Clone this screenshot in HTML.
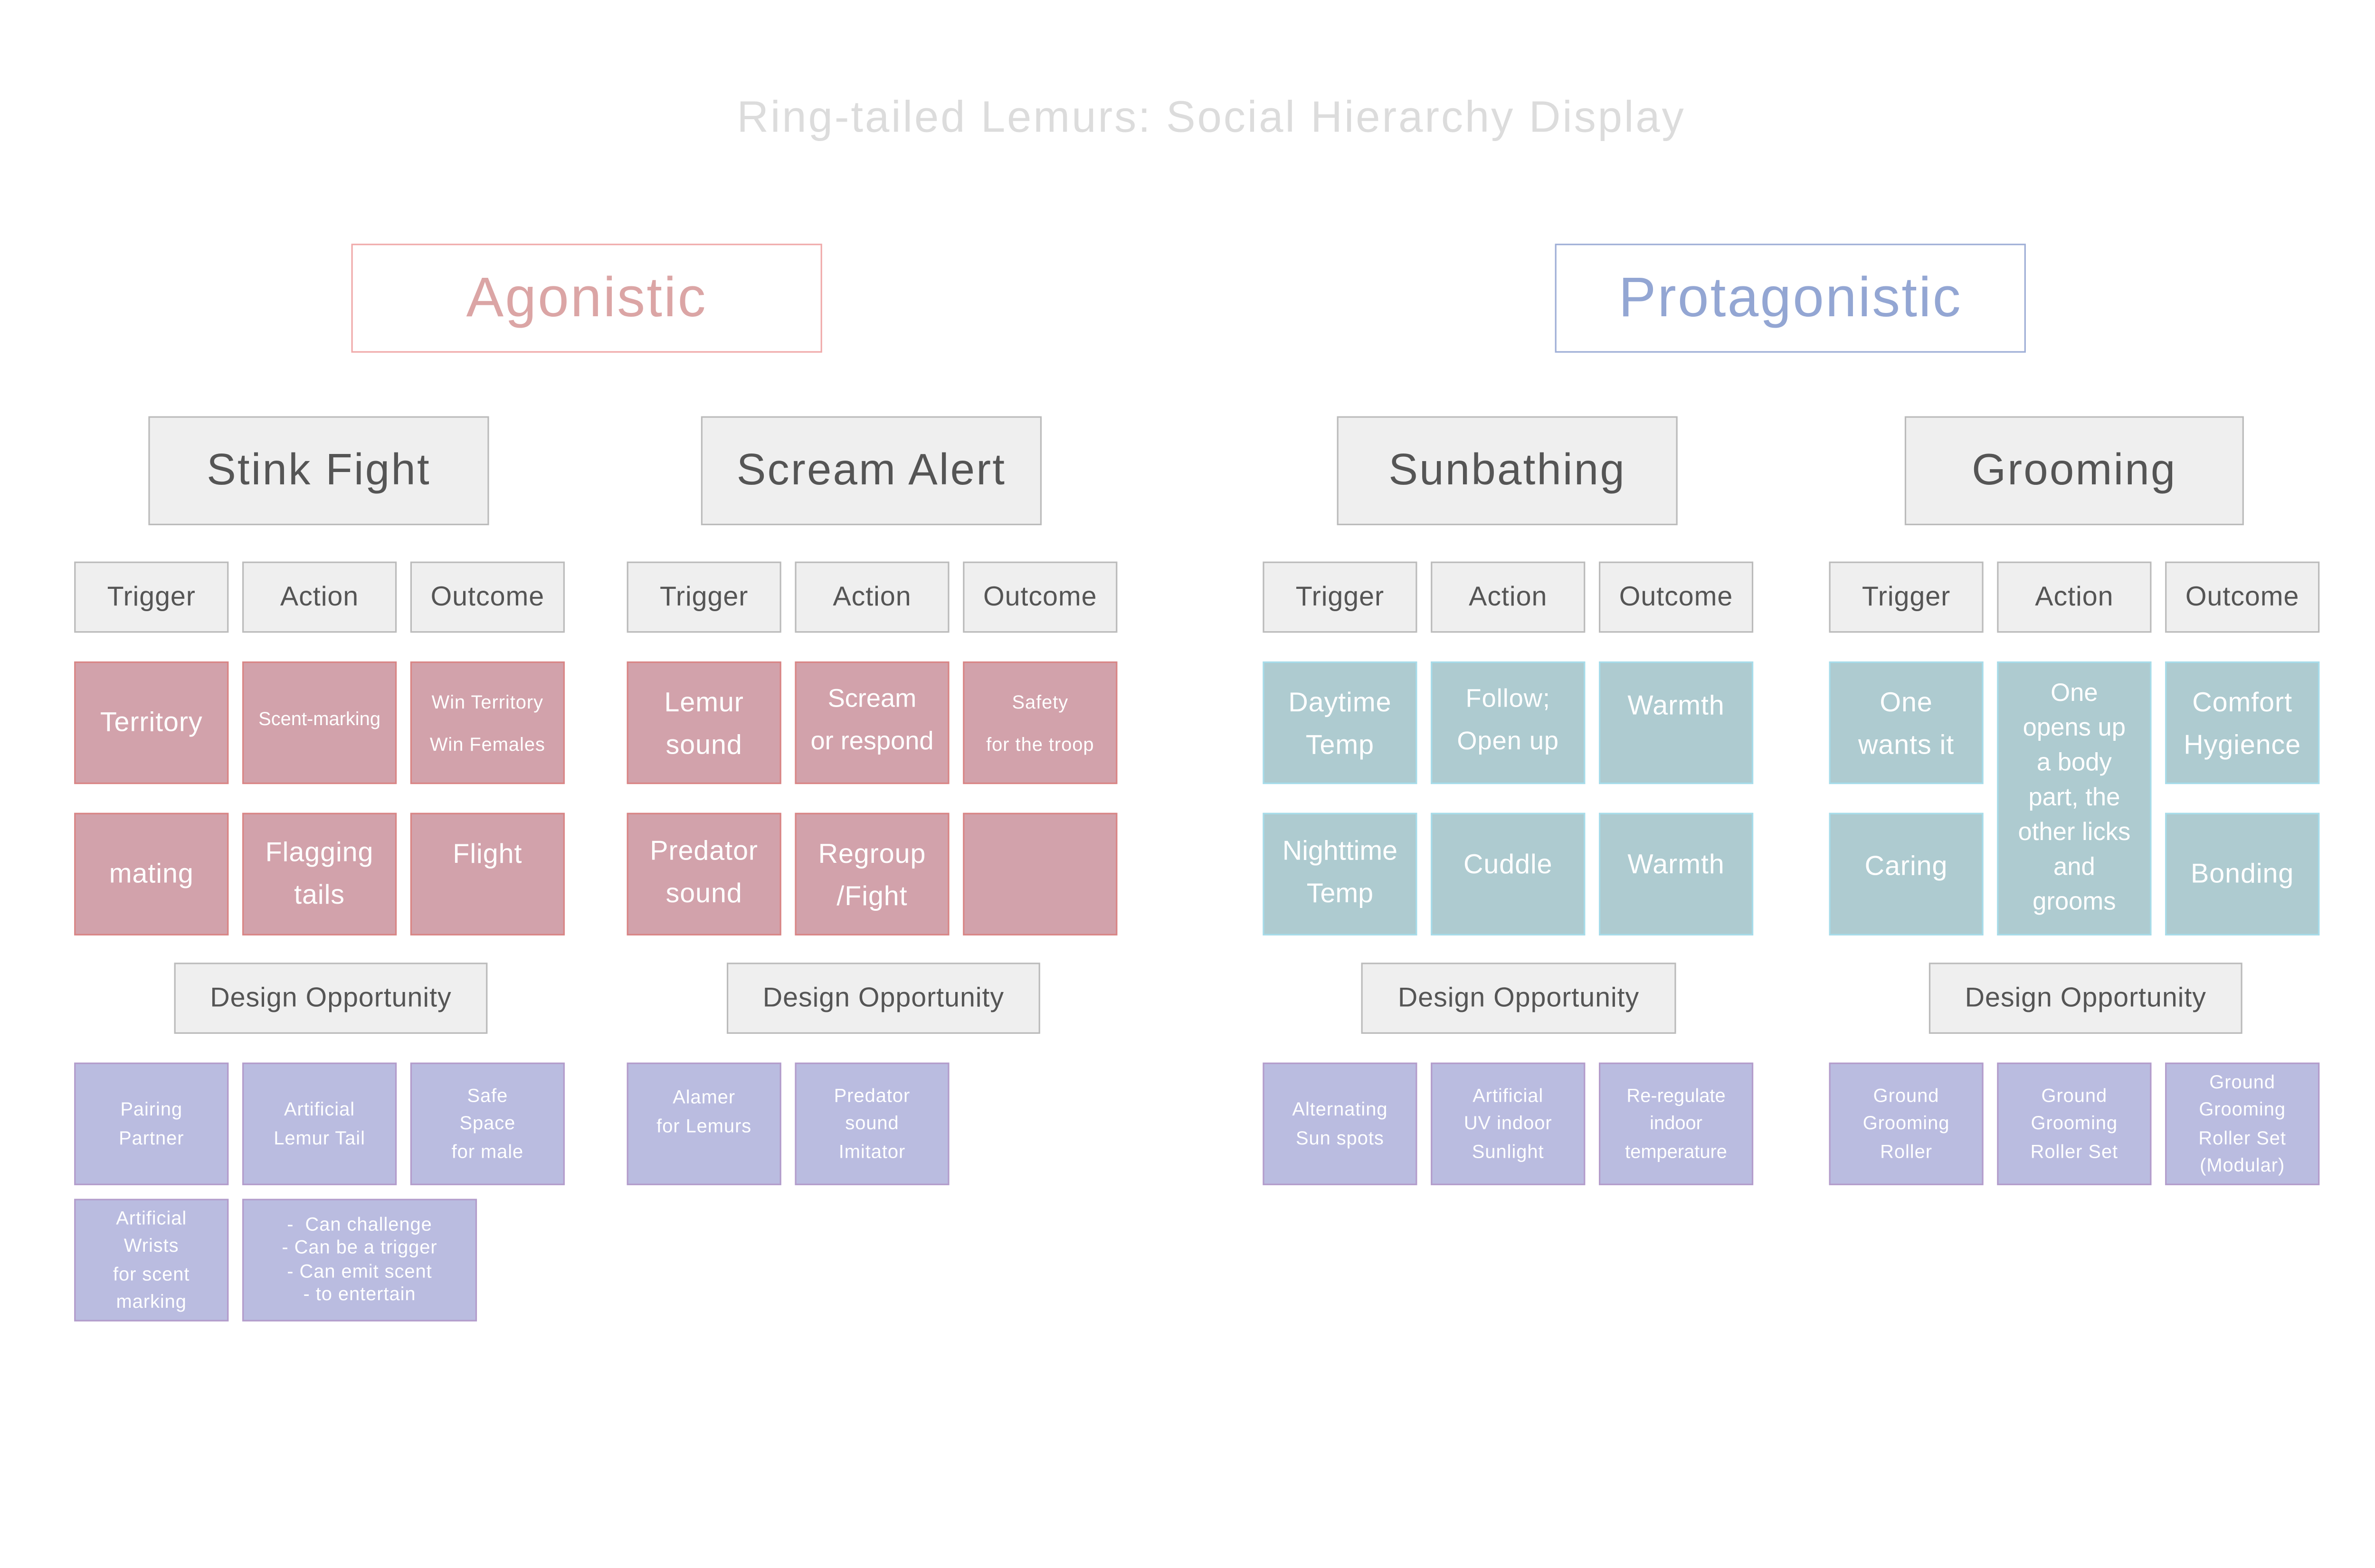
<!DOCTYPE html>
<html><head><meta charset="utf-8"><style>
html,body{margin:0;padding:0;background:#fff;width:5100px;height:3300px;overflow:hidden}
#c{position:absolute;left:0;top:0;width:1600px;height:1036px;transform:scale(3.1875);transform-origin:0 0;font-family:"Liberation Sans",sans-serif;letter-spacing:0.3px}
.b{position:absolute;box-sizing:border-box;display:flex;align-items:center;justify-content:center;text-align:center}
.g{background:#efefef;border:1.5px solid #bbb;color:#555}
.p{background:#d2a2ab;border:1.5px solid #d98585;color:#fff}
.t{background:#aecbd0;border:1.5px solid #a6dcea;color:#fff}
.v{background:#babce0;border:1.5px solid #b39ccb;color:#fff;font-size:12.5px;line-height:18.5px}
.h{font-size:29px;letter-spacing:1px}
</style></head><body><div id="c">
<div class="b" style="left:0;top:58px;width:1600px;height:40px;color:#dcdcdc;font-size:29px;letter-spacing:1.2px">Ring-tailed Lemurs: Social Hierarchy Display</div>
<div class="b" style="left:232px;top:161px;width:311px;height:72px;border:1.5px solid #f0aaaa;color:#dba5a5;font-size:37px;letter-spacing:1px">Agonistic</div>
<div class="b" style="left:1027px;top:161px;width:311px;height:72px;border:1.5px solid #9eaed6;color:#93a6d3;font-size:37px;letter-spacing:1px">Protagonistic</div>

<div class="b g h" style="left:98px;top:275px;width:225px;height:72px">Stink Fight</div>
<div class="b g h" style="left:463px;top:275px;width:225px;height:72px">Scream Alert</div>
<div class="b g h" style="left:883px;top:275px;width:225px;height:72px">Sunbathing</div>
<div class="b g h" style="left:1258px;top:275px;width:224px;height:72px">Grooming</div>

<div class="b g" style="left:49px;top:371px;width:102px;height:47px;font-size:18px">Trigger</div>
<div class="b g" style="left:160px;top:371px;width:102px;height:47px;font-size:18px">Action</div>
<div class="b g" style="left:271px;top:371px;width:102px;height:47px;font-size:18px">Outcome</div>
<div class="b g" style="left:414px;top:371px;width:102px;height:47px;font-size:18px">Trigger</div>
<div class="b g" style="left:525px;top:371px;width:102px;height:47px;font-size:18px">Action</div>
<div class="b g" style="left:636px;top:371px;width:102px;height:47px;font-size:18px">Outcome</div>
<div class="b g" style="left:834px;top:371px;width:102px;height:47px;font-size:18px">Trigger</div>
<div class="b g" style="left:945px;top:371px;width:102px;height:47px;font-size:18px">Action</div>
<div class="b g" style="left:1056px;top:371px;width:102px;height:47px;font-size:18px">Outcome</div>
<div class="b g" style="left:1208px;top:371px;width:102px;height:47px;font-size:18px">Trigger</div>
<div class="b g" style="left:1319px;top:371px;width:102px;height:47px;font-size:18px">Action</div>
<div class="b g" style="left:1430px;top:371px;width:102px;height:47px;font-size:18px">Outcome</div>

<div class="b p" style="left:49px;top:437px;width:102px;height:81px;font-size:18px">Territory</div>
<div class="b p" style="left:160px;top:437px;width:102px;height:81px;font-size:12.5px;padding-bottom:6px;letter-spacing:0">Scent-marking</div>
<div class="b p" style="left:271px;top:437px;width:102px;height:81px;font-size:12.5px;line-height:28px">Win Territory<br>Win Females</div>
<div class="b p" style="left:414px;top:437px;width:102px;height:81px;font-size:18px;line-height:28px">Lemur<br>sound</div>
<div class="b p" style="left:525px;top:437px;width:102px;height:81px;font-size:17px;line-height:28px;padding-bottom:4px;letter-spacing:0">Scream<br>or respond</div>
<div class="b p" style="left:636px;top:437px;width:102px;height:81px;font-size:12.5px;line-height:28px">Safety<br>for the troop</div>
<div class="b p" style="left:49px;top:537px;width:102px;height:81px;font-size:18px">mating</div>
<div class="b p" style="left:160px;top:537px;width:102px;height:81px;font-size:18px;line-height:28px;padding-bottom:2px">Flagging<br>tails</div>
<div class="b p" style="left:271px;top:537px;width:102px;height:81px;font-size:18px;align-items:flex-start;padding-top:16px">Flight</div>
<div class="b p" style="left:414px;top:537px;width:102px;height:81px;font-size:18px;line-height:28px;padding-bottom:4px">Predator<br>sound</div>
<div class="b p" style="left:525px;top:537px;width:102px;height:81px;font-size:18px;line-height:28px">Regroup<br>/Fight</div>
<div class="b p" style="left:636px;top:537px;width:102px;height:81px"></div>

<div class="b t" style="left:834px;top:437px;width:102px;height:81px;font-size:18px;line-height:28px">Daytime<br>Temp</div>
<div class="b t" style="left:945px;top:437px;width:102px;height:81px;font-size:17px;line-height:28px;padding-bottom:4px">Follow;<br>Open up</div>
<div class="b t" style="left:1056px;top:437px;width:102px;height:81px;font-size:18px;align-items:flex-start;padding-top:18px">Warmth</div>
<div class="b t" style="left:834px;top:537px;width:102px;height:81px;font-size:18px;line-height:28px;padding-bottom:4px;letter-spacing:0">Nighttime<br>Temp</div>
<div class="b t" style="left:945px;top:537px;width:102px;height:81px;font-size:18px;padding-bottom:12px">Cuddle</div>
<div class="b t" style="left:1056px;top:537px;width:102px;height:81px;font-size:18px;padding-bottom:12px">Warmth</div>
<div class="b t" style="left:1208px;top:437px;width:102px;height:81px;font-size:18px;line-height:28px">One<br>wants it</div>
<div class="b t" style="left:1319px;top:437px;width:102px;height:181px;font-size:16.5px;line-height:23px;letter-spacing:0">One<br>opens up<br>a body<br>part, the<br>other licks<br>and<br>grooms</div>
<div class="b t" style="left:1430px;top:437px;width:102px;height:81px;font-size:18px;line-height:28px">Comfort<br>Hygience</div>
<div class="b t" style="left:1208px;top:537px;width:102px;height:81px;font-size:18px;padding-bottom:10px">Caring</div>
<div class="b t" style="left:1430px;top:537px;width:102px;height:81px;font-size:18px">Bonding</div>

<div class="b g" style="left:115px;top:636px;width:207px;height:47px;font-size:18px">Design Opportunity</div>
<div class="b g" style="left:480px;top:636px;width:207px;height:47px;font-size:18px">Design Opportunity</div>
<div class="b g" style="left:899px;top:636px;width:208px;height:47px;font-size:18px">Design Opportunity</div>
<div class="b g" style="left:1274px;top:636px;width:207px;height:47px;font-size:18px">Design Opportunity</div>

<div class="b v" style="left:49px;top:702px;width:102px;height:81px">Pairing<br>Partner</div>
<div class="b v" style="left:160px;top:702px;width:102px;height:81px">Artificial<br>Lemur Tail</div>
<div class="b v" style="left:271px;top:702px;width:102px;height:81px">Safe<br>Space<br>for male</div>
<div class="b v" style="left:49px;top:792px;width:102px;height:81px">Artificial<br>Wrists<br>for scent<br>marking</div>
<div class="b v" style="left:160px;top:792px;width:155px;height:81px;line-height:15.5px">-&nbsp; Can challenge<br>- Can be a trigger<br>- Can emit scent<br>- to entertain</div>
<div class="b v" style="left:414px;top:702px;width:102px;height:81px;padding-bottom:16px">Alamer<br>for Lemurs</div>
<div class="b v" style="left:525px;top:702px;width:102px;height:81px">Predator<br>sound<br>Imitator</div>
<div class="b v" style="left:834px;top:702px;width:102px;height:81px">Alternating<br>Sun spots</div>
<div class="b v" style="left:945px;top:702px;width:102px;height:81px">Artificial<br>UV indoor<br>Sunlight</div>
<div class="b v" style="left:1056px;top:702px;width:102px;height:81px;letter-spacing:0">Re-regulate<br>indoor<br>temperature</div>
<div class="b v" style="left:1208px;top:702px;width:102px;height:81px">Ground<br>Grooming<br>Roller</div>
<div class="b v" style="left:1319px;top:702px;width:102px;height:81px">Ground<br>Grooming<br>Roller Set</div>
<div class="b v" style="left:1430px;top:702px;width:102px;height:81px">Ground<br>Grooming<br>Roller Set<br>(Modular)</div>
</div></body></html>
